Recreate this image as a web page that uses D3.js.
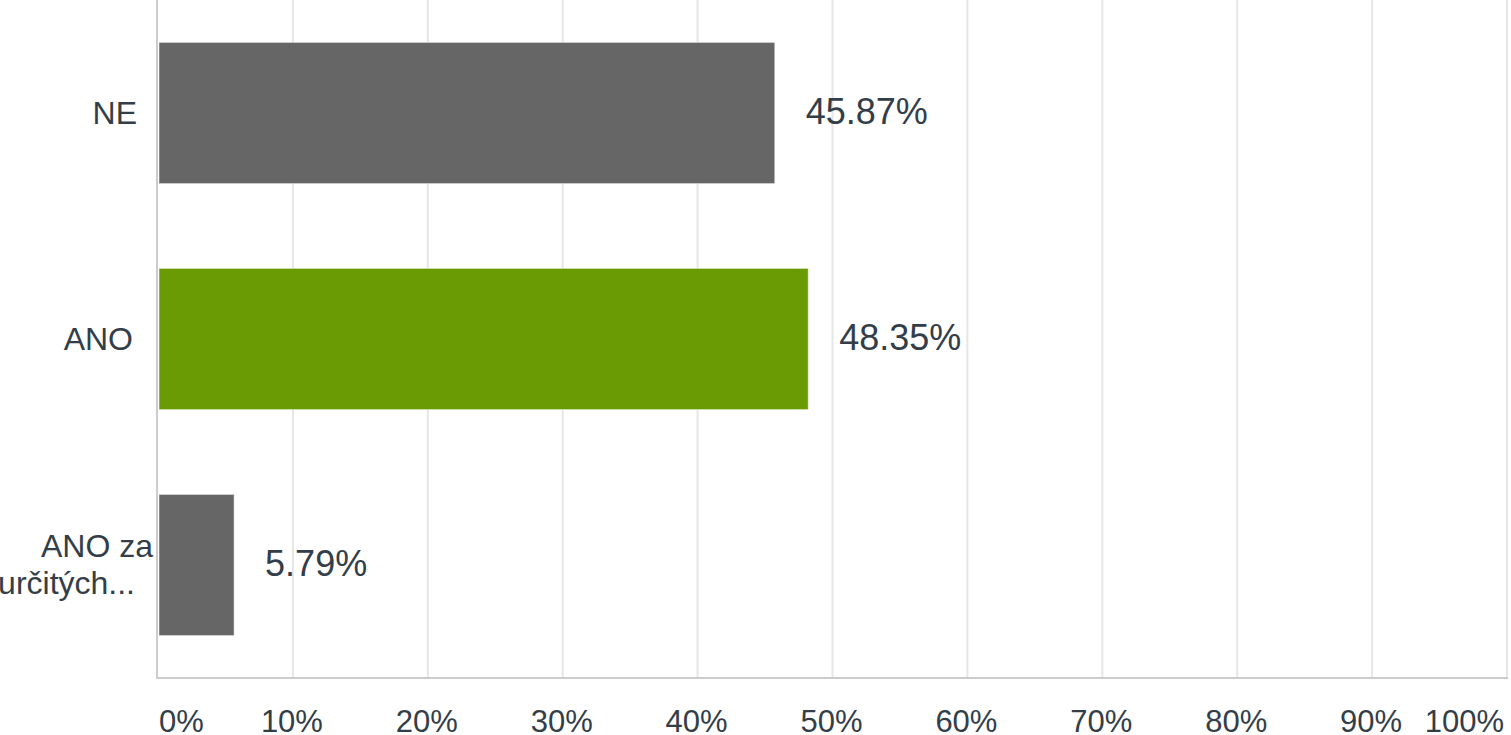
<!DOCTYPE html>
<html>
<head>
<meta charset="utf-8">
<script src="https://cdn.jsdelivr.net/npm/d3@7"></script>
<style>
  html, body { margin: 0; padding: 0; background: #fff; }
  svg { display: block; font-family: "Liberation Sans", Arial, sans-serif; }
</style>
</head>
<body>
<svg id="chart" width="1511" height="735"></svg>
<script>
// ---- data ----
const categories = ["NE", "ANO", "ANO za určitých..."];
const categoryLines = [["NE"], ["ANO"], ["ANO za", "určitých..."]];
const values = [45.87, 48.35, 5.79];
const barColors = ["#666666", "#6a9a04", "#666666"];
const tickValues = [0, 10, 20, 30, 40, 50, 60, 70, 80, 90, 100];
const tickLabels = ["0%", "10%", "20%", "30%", "40%", "50%", "60%", "70%", "80%", "90%", "100%"];

// ---- layout ----
const W = 1511, H = 735;
const plot = { left: 158, right: 1507, top: 0, bottom: 678 };
const textColor = "#333e48";

const svg = d3.select("#chart");

const x = d3.scaleLinear().domain([0, 100]).range([plot.left, plot.right]);
const y = d3.scaleBand().domain(categories).range([plot.top, plot.bottom])
  .paddingInner(0.375).paddingOuter(0.1875);

// gridlines
svg.append("g").selectAll("line").data(tickValues.slice(1)).join("line")
  .attr("x1", d => x(d)).attr("x2", d => x(d))
  .attr("y1", plot.top).attr("y2", plot.bottom)
  .attr("stroke", "#e6e6e6").attr("stroke-width", 2);

// bars
svg.append("g").selectAll("rect").data(values).join("rect")
  .attr("x", x(0) + 1)
  .attr("y", (d, i) => y(categories[i]))
  .attr("width", d => x(d) - x(0) - 3)
  .attr("height", y.bandwidth())
  .attr("fill", (d, i) => barColors[i])
  .attr("stroke", "#ffffff").attr("stroke-opacity", 0.5).attr("stroke-width", 1);

// axis lines
svg.append("line").attr("x1", plot.left - 1).attr("x2", plot.left - 1)
  .attr("y1", 0).attr("y2", plot.bottom + 1)
  .attr("stroke", "#cccccc").attr("stroke-width", 2);
svg.append("line").attr("x1", plot.left - 2).attr("x2", plot.right + 1)
  .attr("y1", plot.bottom).attr("y2", plot.bottom)
  .attr("stroke", "#cccccc").attr("stroke-width", 2);

// value labels
svg.append("g").selectAll("text").data(values).join("text")
  .attr("x", d => x(d) + 29)
  .attr("y", (d, i) => y(categories[i]) + y.bandwidth() / 2)
  .attr("dy", "0.3em")
  .attr("font-size", 36)
  .attr("fill", textColor)
  .text(d => d.toFixed(2) + "%");

// category labels
const lineOffsets = [[0], [-4], [16, -2]];
const catG = svg.append("g");
categoryLines.forEach((lines, i) => {
  const cy = y(categories[i]) + y.bandwidth() / 2;
  const lh = 37;
  const t = catG.append("text")
    .attr("text-anchor", "end")
    .attr("font-size", 32)
    .attr("fill", textColor);
  lines.forEach((ln, j) => {
    t.append("tspan")
      .attr("x", plot.left - 21 + lineOffsets[i][j])
      .attr("y", cy + (j - (lines.length - 1) / 2) * lh)
      .attr("dy", "0.33em")
      .text(ln);
  });
});

// tick labels (justified to stay inside the chart)
const tickG = svg.append("g");
tickValues.forEach((v, i) => {
  const t = tickG.append("text")
    .attr("x", x(v) - 1)
    .attr("y", 731.5)
    .attr("text-anchor", "middle")
    .attr("font-size", 31)
    .attr("fill", textColor)
    .text(tickLabels[i]);
  const bb = t.node().getBBox();
  if (bb.x < plot.left) t.attr("x", x(v) + (plot.left - bb.x));
  if (bb.x + bb.width > W - 8) t.attr("x", x(v) - (bb.x + bb.width - (W - 8)));
});
</script>
</body>
</html>
